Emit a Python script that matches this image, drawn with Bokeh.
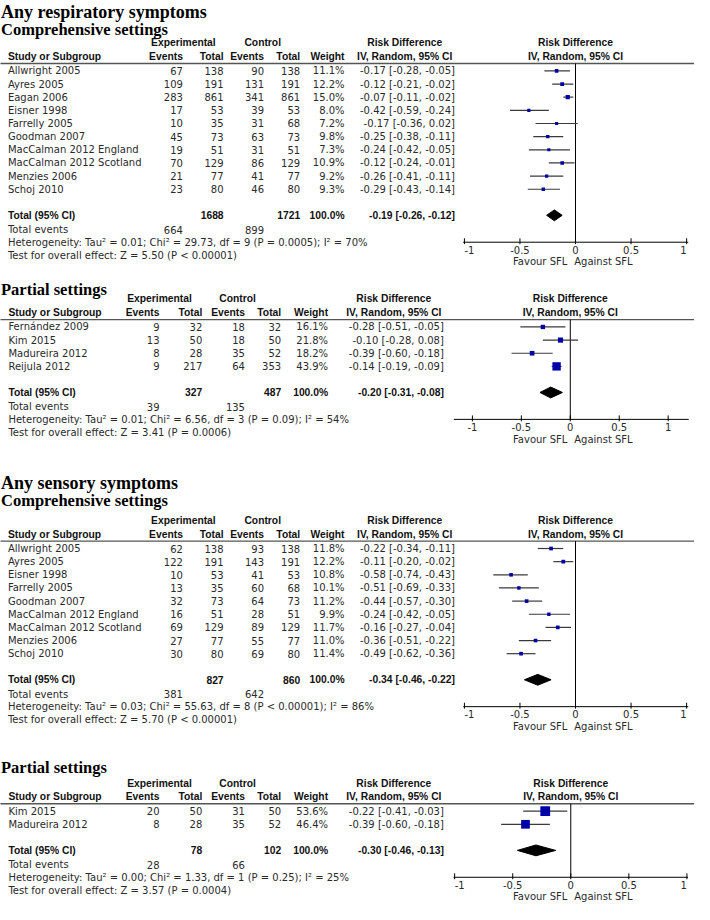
from bokeh.plotting import figure
from bokeh.models import ColumnDataSource, Range1d
from bokeh.core.properties import value
from bokeh.embed import file_html
from bokeh.resources import INLINE

# ================= DATA =================
# Any respiratory symptoms - Comprehensive settings
rc_study = ["Allwright 2005", "Ayres 2005", "Eagan 2006", "Eisner 1998", "Farrelly 2005",
            "Goodman 2007", "MacCalman 2012 England", "MacCalman 2012 Scotland",
            "Menzies 2006", "Schoj 2010"]
rc_exp_events = [67, 109, 283, 17, 10, 45, 19, 70, 21, 23]
rc_exp_total = [138, 191, 861, 53, 35, 73, 51, 129, 77, 80]
rc_ctl_events = [90, 131, 341, 39, 31, 63, 31, 86, 41, 46]
rc_ctl_total = [138, 191, 861, 53, 68, 73, 51, 129, 77, 80]
rc_weight = [11.1, 12.2, 15.0, 8.0, 7.2, 9.8, 7.3, 10.9, 9.2, 9.3]
rc_rd = [-0.17, -0.12, -0.07, -0.42, -0.17, -0.25, -0.24, -0.12, -0.26, -0.29]
rc_lo = [-0.28, -0.21, -0.11, -0.59, -0.36, -0.38, -0.42, -0.24, -0.41, -0.43]
rc_hi = [-0.05, -0.02, -0.02, -0.24, 0.02, -0.11, -0.05, -0.01, -0.11, -0.14]
rc_pooled = [-0.19, -0.26, -0.12]
rc_totals = [1688, 1721, 100.0]
rc_total_events = [664, 899]
rc_het = ["0.01", "29.73", "9", "P = 0.0005", "70%"]
rc_test = ["5.50", "P < 0.00001"]

# Any respiratory symptoms - Partial settings
rp_study = ["Fernández 2009", "Kim 2015", "Madureira 2012", "Reijula 2012"]
rp_exp_events = [9, 13, 8, 9]
rp_exp_total = [32, 50, 28, 217]
rp_ctl_events = [18, 18, 35, 64]
rp_ctl_total = [32, 50, 52, 353]
rp_weight = [16.1, 21.8, 18.2, 43.9]
rp_rd = [-0.28, -0.10, -0.39, -0.14]
rp_lo = [-0.51, -0.28, -0.60, -0.19]
rp_hi = [-0.05, 0.08, -0.18, -0.09]
rp_pooled = [-0.20, -0.31, -0.08]
rp_totals = [327, 487, 100.0]
rp_total_events = [39, 135]
rp_het = ["0.01", "6.56", "3", "P = 0.09", "54%"]
rp_test = ["3.41", "P = 0.0006"]

# Any sensory symptoms - Comprehensive settings
sc_study = ["Allwright 2005", "Ayres 2005", "Eisner 1998", "Farrelly 2005", "Goodman 2007",
            "MacCalman 2012 England", "MacCalman 2012 Scotland", "Menzies 2006", "Schoj 2010"]
sc_exp_events = [62, 122, 10, 13, 32, 16, 69, 27, 30]
sc_exp_total = [138, 191, 53, 35, 73, 51, 129, 77, 80]
sc_ctl_events = [93, 143, 41, 60, 64, 28, 89, 55, 69]
sc_ctl_total = [138, 191, 53, 68, 73, 51, 129, 77, 80]
sc_weight = [11.8, 12.2, 10.8, 10.1, 11.2, 9.9, 11.7, 11.0, 11.4]
sc_rd = [-0.22, -0.11, -0.58, -0.51, -0.44, -0.24, -0.16, -0.36, -0.49]
sc_lo = [-0.34, -0.20, -0.74, -0.69, -0.57, -0.42, -0.27, -0.51, -0.62]
sc_hi = [-0.11, -0.02, -0.43, -0.33, -0.30, -0.05, -0.04, -0.22, -0.36]
sc_pooled = [-0.34, -0.46, -0.22]
sc_totals = [827, 860, 100.0]
sc_total_events = [381, 642]
sc_het = ["0.03", "55.63", "8", "P < 0.00001", "86%"]
sc_test = ["5.70", "P < 0.00001"]

# Any sensory symptoms - Partial settings
sp_study = ["Kim 2015", "Madureira 2012"]
sp_exp_events = [20, 8]
sp_exp_total = [50, 28]
sp_ctl_events = [31, 35]
sp_ctl_total = [50, 52]
sp_weight = [53.6, 46.4]
sp_rd = [-0.22, -0.39]
sp_lo = [-0.41, -0.60]
sp_hi = [-0.03, -0.18]
sp_pooled = [-0.30, -0.46, -0.13]
sp_totals = [78, 102, 100.0]
sp_total_events = [28, 66]
sp_het = ["0.00", "1.33", "1", "P = 0.25", "25%"]
sp_test = ["3.57", "P = 0.0004"]

tick_values = [-1, -0.5, 0, 0.5, 1]
tick_labels = ["-1", "-0.5", "0", "0.5", "1"]
favour_labels = ["Favour SFL", "Against SFL"]

# ================= STYLE / LAYOUT =================
SANS = "DejaVu Sans"
BOLD = "Liberation Sans"
SERIF = "Liberation Serif"
TXT = "#2a2a2a"
BTXT = "#111111"
SQ = "#0000a8"
ROW = 13.35

LAY_A = dict(name=9.5, ee=187, et=228.3, ce=269.3, ct=306, w=351, ci=463,
             exp_c=187.5, ctl_c=268, ci_c=412)
LAY_B = dict(name=10, ee=163.3, et=206.7, ce=250, ct=286.7, w=334.3, ci=451.7,
             exp_c=163.3, ctl_c=242.5, ci_c=401)

X0, X1 = 2, 706
p = figure(width=694, height=904, x_range=Range1d(X0, X1), y_range=Range1d(918, 0),
           output_backend="svg", toolbar_location=None,
           x_axis_type=None, y_axis_type=None, min_border=0)
p.outline_line_color = None
p.background_fill_color = "white"
p.border_fill_color = "white"


def txt(x, y, t, align="left", bold=False, size=None, color=None, xr=None, font=None,
        style=None):
    kw = dict(x=x, y=y, text=t, text_align=align, text_baseline="middle",
              text_font=value(font or (BOLD if bold else SANS)),
              text_font_size=size or ("10.3px" if bold else "10px"),
              text_color=color or (BTXT if bold else TXT))
    if bold or style:
        kw["text_font_style"] = style or "bold"
    if xr:
        kw["x_range_name"] = xr
    return p.text(**kw)


sections = [
    dict(main="Any respiratory symptoms", main_y=12, sub="Comprehensive settings", sub_y=29.5,
         rule=64, lay=LAY_A, zero=585.3, scale=112.7, bounds=(-1.01, 1.015),
         d=(rc_study, rc_exp_events, rc_exp_total, rc_ctl_events, rc_ctl_total, rc_weight,
            rc_rd, rc_lo, rc_hi, rc_pooled, rc_totals, rc_total_events, rc_het, rc_test)),
    dict(main=None, main_y=None, sub="Partial settings", sub_y=293.3,
         rule=324, lay=LAY_B, zero=580, scale=99.3, bounds=(-1.19, 1.21),
         d=(rp_study, rp_exp_events, rp_exp_total, rp_ctl_events, rp_ctl_total, rp_weight,
            rp_rd, rp_lo, rp_hi, rp_pooled, rp_totals, rp_total_events, rp_het, rp_test)),
    dict(main="Any sensory symptoms", main_y=490, sub="Comprehensive settings", sub_y=507.3,
         rule=549, lay=LAY_A, zero=585.3, scale=112.7, bounds=(-1.01, 1.015),
         d=(sc_study, sc_exp_events, sc_exp_total, sc_ctl_events, sc_ctl_total, sc_weight,
            sc_rd, sc_lo, sc_hi, sc_pooled, sc_totals, sc_total_events, sc_het, sc_test)),
    dict(main=None, main_y=None, sub="Partial settings", sub_y=779.3,
         rule=815.7, lay=LAY_B, zero=580.5, scale=117.8, bounds=(-1.01, 1.01),
         d=(sp_study, sp_exp_events, sp_exp_total, sp_ctl_events, sp_ctl_total, sp_weight,
            sp_rd, sp_lo, sp_hi, sp_pooled, sp_totals, sp_total_events, sp_het, sp_test)),
]

extra = {}
for k, s in enumerate(sections):
    extra[f"f{k}"] = Range1d((X0 - s["zero"]) / s["scale"], (X1 - s["zero"]) / s["scale"])
p.extra_x_ranges = extra

for k, s in enumerate(sections):
    fr = f"f{k}"
    L = s["lay"]
    (study, ee, et, ce, ct, w, rd, lo, hi, pooled, totals, tev, het, test) = s["d"]
    rule = s["rule"]

    # titles
    if s["main"]:
        txt(2.5, s["main_y"], [s["main"]], font=SERIF, size="18px", color="#000000",
            style="bold")
    txt(2.5, s["sub_y"], [s["sub"]], font=SERIF, size="16.5px", color="#000000",
        style="bold")

    # headers
    h1, h2 = rule - 21, rule - 7
    txt(L["exp_c"], h1, ["Experimental"], "center", bold=True)
    txt(L["ctl_c"], h1, ["Control"], "center", bold=True)
    txt(L["ci_c"], h1, ["Risk Difference"], "center", bold=True)
    txt(0, h1, ["Risk Difference"], "center", bold=True, xr=fr)
    txt(L["name"], h2, ["Study or Subgroup"], "left", bold=True)
    txt(L["ee"], h2, ["Events"], "right", bold=True)
    txt(L["et"], h2, ["Total"], "right", bold=True)
    txt(L["ce"], h2, ["Events"], "right", bold=True)
    txt(L["ct"], h2, ["Total"], "right", bold=True)
    txt(L["w"], h2, ["Weight"], "right", bold=True)
    txt(L["ci_c"], h2, ["IV, Random, 95% CI"], "center", bold=True)
    txt(0, h2, ["IV, Random, 95% CI"], "center", bold=True, xr=fr)
    p.segment(x0=[0], x1=[708], y0=[rule], y1=[rule], line_color="#555555", line_width=1.3)

    # study rows
    n = len(study)
    ys = [rule + 7.5 + ROW * i for i in range(n)]
    src = ColumnDataSource(dict(
        y=ys, study=study,
        ee=[str(v) for v in ee], et=[str(v) for v in et],
        ce=[str(v) for v in ce], ct=[str(v) for v in ct],
        w=[f"{v:.1f}%" for v in w],
        ci=[f"{a:.2f} [{b:.2f}, {c:.2f}]" for a, b, c in zip(rd, lo, hi)],
        rd=rd, lo=lo, hi=hi, size=[2 + 0.145 * v for v in w]))
    for col, key, al in [("name", "study", "left"), ("ee", "ee", "right"), ("et", "et", "right"),
                         ("ce", "ce", "right"), ("ct", "ct", "right"), ("w", "w", "right"),
                         ("ci", "ci", "right")]:
        p.text(x=L[col], y="y", text=key, source=src, text_align=al, text_baseline="middle",
               text_font=value(SANS), text_font_size="10px", text_color=TXT)

    # totals
    ty = ys[-1] + 26.5
    tey = ty + 14.5
    hy = tey + 12.8
    zy = hy + 13.3
    txt(L["name"], ty, ["Total (95% CI)"], "left", bold=True)
    txt(L["et"], ty, [str(totals[0])], "right", bold=True)
    txt(L["ct"], ty, [str(totals[1])], "right", bold=True)
    txt(L["w"], ty, [f"{totals[2]:.1f}%"], "right", bold=True)
    txt(L["ci"], ty, [f"{pooled[0]:.2f} [{pooled[1]:.2f}, {pooled[2]:.2f}]"], "right", bold=True)
    txt(L["name"], tey, ["Total events"], "left")
    txt(L["ee"], tey, [str(tev[0])], "right")
    txt(L["ce"], tey, [str(tev[1])], "right")
    txt(L["name"], hy, [f"Heterogeneity: Tau\u00b2 = {het[0]}; Chi\u00b2 = {het[1]}, df = {het[2]} ({het[3]}); I\u00b2 = {het[4]}"], "left")
    txt(L["name"], zy, [f"Test for overall effect: Z = {test[0]} ({test[1]})"], "left")

    # forest plot
    axis_y = hy
    p.segment(x0=[0], x1=[0], y0=[rule], y1=[axis_y], x_range_name=fr,
              line_color="#000000", line_width=1)
    p.segment(x0="lo", x1="hi", y0="y", y1="y", source=src, x_range_name=fr,
              line_color="#3a3a3a", line_width=1.2)
    p.scatter(x="rd", y="y", size="size", marker="square", source=src, x_range_name=fr,
              fill_color=SQ, line_color=None)
    dh = 5.5
    p.patch(x=[pooled[1], pooled[0], pooled[2], pooled[0]], y=[ty, ty - dh, ty, ty + dh],
            x_range_name=fr, fill_color="#000000", line_color="#000000", line_width=1)

    # axis
    b0, b1 = s["bounds"]
    p.segment(x0=[b0], x1=[b1], y0=[axis_y], y1=[axis_y], x_range_name=fr,
              line_color="#000000", line_width=1)
    p.segment(x0=tick_values, x1=tick_values, y0=[axis_y + 2] * len(tick_values),
              y1=[axis_y - 4] * len(tick_values), x_range_name=fr,
              line_color="#000000", line_width=1)
    groups = {"left": ([], []), "center": ([], []), "right": ([], [])}
    for tv, tl in zip(tick_values, tick_labels):
        al = "left" if tv - b0 < 0.1 else ("right" if b1 - tv < 0.1 else "center")
        groups[al][0].append(tv)
        groups[al][1].append(tl)
    for al, (xs, ls) in groups.items():
        if xs:
            txt(xs, [axis_y + 7.7] * len(xs), ls, al, xr=fr)
    txt(577, axis_y + 20, [favour_labels[0]], "right")
    txt(584, axis_y + 20, [favour_labels[1]], "left")

open("out.html", "w").write(file_html(p, INLINE))
